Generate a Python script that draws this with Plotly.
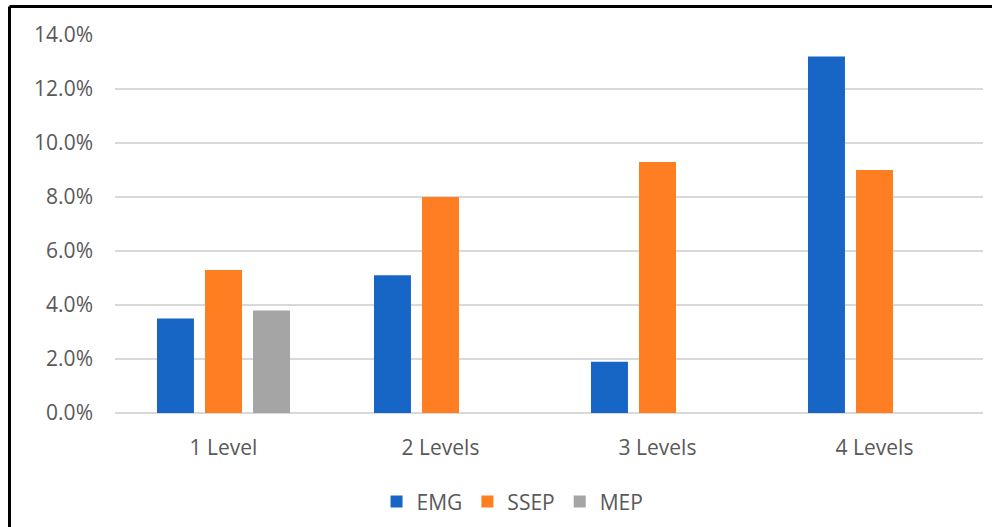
import plotly.graph_objects as go

# Share of cases with alerts by number of levels operated
levels = ["1 Level", "2 Levels", "3 Levels", "4 Levels"]
emg = [3.5, 5.1, 1.9, 13.2]
ssep = [5.3, 8.0, 9.3, 9.0]
mep = [3.8, None, None, None]
y_ticks = [0, 2, 4, 6, 8, 10, 12, 14]

series = [
    ("EMG", emg, "#1766C6"),
    ("SSEP", ssep, "#FF7E22"),
    ("MEP", mep, "#A5A5A5"),
]

fig = go.Figure()
for name, vals, color in series:
    fig.add_trace(go.Bar(
        x=levels, y=vals, name=name,
        marker=dict(color=color, line=dict(width=0)),
    ))

font_family = "'Open Sans', sans-serif"
fs = 21
fig.update_layout(
    width=992, height=527,
    margin=dict(l=115, r=9, t=35, b=114, autoexpand=False),
    paper_bgcolor="white", plot_bgcolor="white",
    barmode="group", bargap=0.336, bargroupgap=0.23,
    font=dict(family=font_family, size=fs, color="#595959"),
    showlegend=True,
    legend=dict(orientation="h", x=0.458, xanchor="center", y=-0.235, yanchor="middle",
                font=dict(size=fs, color="#595959"), itemwidth=30,
                traceorder="normal"),
    xaxis=dict(showgrid=False, showline=False, ticks="", tickfont=dict(size=fs),
               ticklabelstandoff=20, automargin=False),
    yaxis=dict(range=[0, 14], tickvals=y_ticks,
               ticktext=[f"{v:.1f}%" for v in y_ticks],
               showgrid=True, gridcolor="#D9D9D9", gridwidth=1.5,
               zeroline=True, zerolinecolor="#D9D9D9", zerolinewidth=1.5,
               showline=False, ticks="", ticklabelstandoff=21,
               tickfont=dict(size=fs), automargin=False),
    shapes=[
        # frame edges along the top and left of the figure
        dict(type="line", xref="paper", yref="paper",
             x0=(9.5 - 115) / 868, x1=1.02, y0=(413 - 6.5) / 378, y1=(413 - 6.5) / 378,
             line=dict(color="black", width=3)),
        dict(type="line", xref="paper", yref="paper",
             x0=(9.5 - 115) / 868, x1=(9.5 - 115) / 868, y0=(413 - 6.5) / 378, y1=-0.4,
             line=dict(color="black", width=3)),
    ],
)

fig.write_html("out.html")
